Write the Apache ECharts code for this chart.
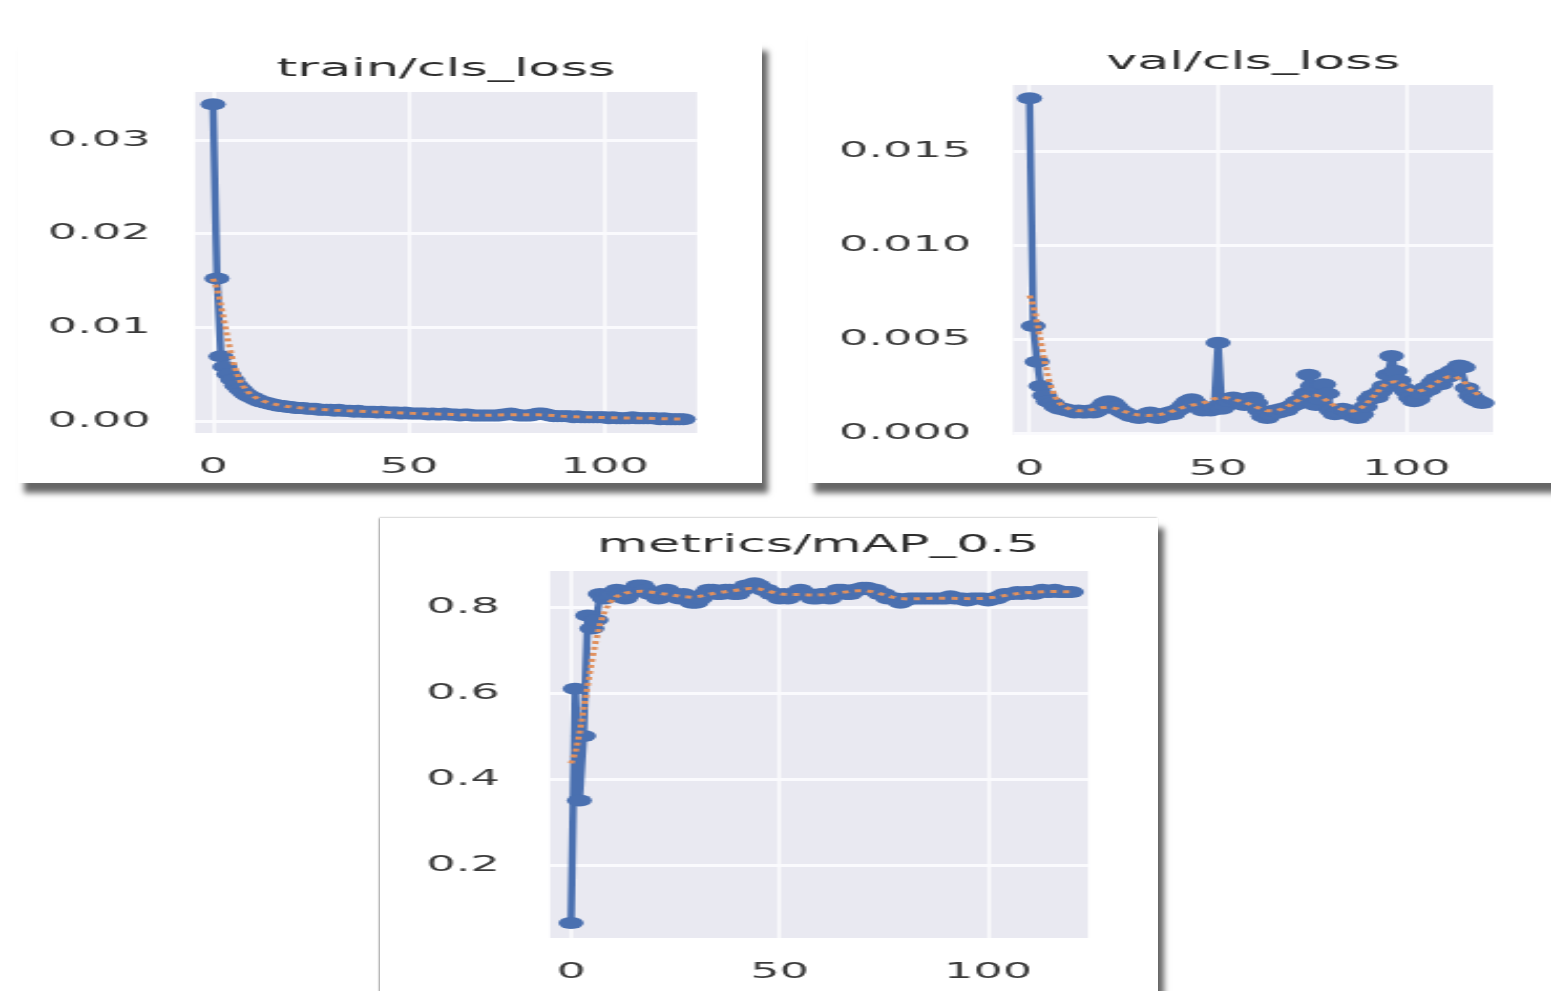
<!DOCTYPE html>
<html>
<head>
<meta charset="utf-8">
<script src="https://cdn.jsdelivr.net/npm/echarts@6/dist/echarts.min.js"></script>
<style>
  html, body { margin: 0; padding: 0; background: #fff; overflow: hidden; }
  body { width: 1551px; height: 991px; position: relative; }
  .card { position: absolute; background: #fff; box-shadow: 6px 10px 6px rgba(0,0,0,0.6); z-index: 1; }
  #chart { position: absolute; left: 0; top: 0; height: 991px; transform-origin: 0 0; z-index: 2; }
</style>
</head>
<body>
<div class="card" style="left:18px;top:41px;width:744px;height:442px;"></div>
<div class="card" style="left:808px;top:30px;width:800px;height:453px;"></div>
<div class="card" style="left:380px;top:518px;width:778px;height:520px;box-shadow:6px 10px 6px rgba(0,0,0,0.6), -1px 0 2px rgba(0,0,0,0.4);"></div>
<div id="chart"></div>
<script>
// the reference was stretched sideways, so draw narrow and scale x
const STRETCH = 2.1;

// ---- data (epochs 0..120) ----
const epochs = Array.from({ length: 121 }, (_, i) => i);

const trainClsLoss = [
  0.0338, 0.0152, 0.0069, 0.0058, 0.0050, 0.0044, 0.0038, 0.0034, 0.0030, 0.0027,
  0.0025, 0.0023, 0.0021, 0.0020, 0.0019, 0.0018, 0.0017, 0.0016, 0.0016, 0.0015,
  0.0015, 0.0014, 0.0014, 0.0014, 0.0013, 0.0013, 0.0013, 0.0012, 0.0012, 0.0012,
  0.0012, 0.0011, 0.0012, 0.0011, 0.0011, 0.0011, 0.0010, 0.0011, 0.0010, 0.0010,
  0.0010, 0.0010, 0.0009, 0.0010, 0.0009, 0.0009, 0.0009, 0.0009, 0.0008, 0.0009,
  0.0008, 0.0008, 0.0008, 0.0008, 0.0008, 0.0007, 0.0008, 0.0007, 0.0007, 0.0008,
  0.0007, 0.0007, 0.0007, 0.0006, 0.0007, 0.0007, 0.0006, 0.0006, 0.0006, 0.0006,
  0.0006, 0.0006, 0.0006, 0.0006, 0.0007, 0.0007, 0.0008, 0.0007, 0.0006, 0.0006,
  0.0006, 0.0006, 0.0007, 0.0008, 0.0008, 0.0007, 0.0006, 0.0005, 0.0005, 0.0005,
  0.0005, 0.0005, 0.0004, 0.0005, 0.0004, 0.0004, 0.0004, 0.0004, 0.0004, 0.0004,
  0.0004, 0.0003, 0.0004, 0.0003, 0.0003, 0.0003, 0.0003, 0.0004, 0.0003, 0.0003,
  0.0003, 0.0003, 0.0003, 0.0003, 0.0002, 0.0003, 0.0002, 0.0002, 0.0002, 0.0002, 0.0002
];

const valClsLoss = [
  0.0178, 0.0057, 0.0038, 0.0025, 0.0020, 0.0017, 0.0016, 0.0014, 0.0013, 0.0013,
  0.0012, 0.0012, 0.0011, 0.0012, 0.0011, 0.0011, 0.0012, 0.0011, 0.0012, 0.0014,
  0.0016, 0.0017, 0.0016, 0.0014, 0.0012, 0.0011, 0.0010, 0.0009, 0.0009, 0.0008,
  0.0009, 0.0010, 0.0011, 0.0009, 0.0008, 0.0009, 0.0010, 0.0011, 0.0010, 0.0012,
  0.0013, 0.0015, 0.0017, 0.0018, 0.0016, 0.0014, 0.0012, 0.0013, 0.0012, 0.0014,
  0.0048, 0.0013, 0.0015, 0.0017, 0.0019, 0.0018, 0.0016, 0.0015, 0.0017, 0.0019,
  0.0016, 0.0012, 0.0009, 0.0008, 0.0010, 0.0012, 0.0011, 0.0013, 0.0012, 0.0014,
  0.0015, 0.0017, 0.0016, 0.0021, 0.0031, 0.0025, 0.0015, 0.0018, 0.0026, 0.0021,
  0.0012, 0.0010, 0.0011, 0.0013, 0.0012, 0.0010, 0.0009, 0.0008, 0.0010, 0.0014,
  0.0018, 0.0020, 0.0019, 0.0022, 0.0025, 0.0031, 0.0041, 0.0033, 0.0028, 0.0024,
  0.0022, 0.0019, 0.0017, 0.0018, 0.0021, 0.0024, 0.0023, 0.0027, 0.0029, 0.0026,
  0.0031, 0.0030, 0.0033, 0.0034, 0.0036, 0.0035, 0.0024, 0.0020, 0.0018, 0.0017, 0.0016
];

const mAP05 = [
  0.065, 0.61, 0.35, 0.50, 0.78, 0.75, 0.77, 0.83, 0.82, 0.83,
  0.83, 0.84, 0.83, 0.82, 0.83, 0.84, 0.85, 0.85, 0.84, 0.83,
  0.83, 0.82, 0.83, 0.84, 0.83, 0.83, 0.82, 0.83, 0.82, 0.81,
  0.81, 0.82, 0.83, 0.84, 0.84, 0.83, 0.83, 0.84, 0.84, 0.83,
  0.83, 0.84, 0.85, 0.85, 0.855, 0.85, 0.84, 0.84, 0.83, 0.83,
  0.82, 0.83, 0.82, 0.83, 0.83, 0.84, 0.83, 0.83, 0.82, 0.82,
  0.83, 0.83, 0.82, 0.83, 0.84, 0.84, 0.83, 0.83, 0.84, 0.84,
  0.845, 0.845, 0.84, 0.84, 0.83, 0.83, 0.82, 0.82, 0.82, 0.81,
  0.815, 0.82, 0.82, 0.82, 0.82, 0.82, 0.82, 0.82, 0.82, 0.82,
  0.82, 0.825, 0.82, 0.82, 0.82, 0.815, 0.82, 0.82, 0.82, 0.82,
  0.815, 0.82, 0.82, 0.825, 0.83, 0.83, 0.83, 0.835, 0.83, 0.835,
  0.835, 0.83, 0.835, 0.84, 0.835, 0.835, 0.84, 0.835, 0.835, 0.835, 0.835
];

const xTicks = [0, 50, 100];
const trainTicks = [0, 0.01, 0.02, 0.03];
const valTicks = [0, 0.005, 0.010, 0.015];
const mapTicks = [0.2, 0.4, 0.6, 0.8];

// smoothed copy, same as the gaussian filter the original plot used
let gaussSmooth = (ys, sigma) => {
  let r = Math.ceil(sigma * 4);
  let w = [];
  for (let k = -r; k <= r; k++) w.push(Math.exp(-(k * k) / (2 * sigma * sigma)));
  let n = ys.length;
  return ys.map((_, i) => {
    let s = 0, ws = 0;
    for (let k = -r; k <= r; k++) {
      let j = i + k;
      if (j < 0) j = -j - 1;          // reflect at the edges
      if (j >= n) j = 2 * n - j - 1;
      s += ys[j] * w[k + r];
      ws += w[k + r];
    }
    return s / ws;
  });
};

let pairs = ys => epochs.map((e, i) => [e, ys[i]]);

// ---- layout (final pixel coords, x divided by the stretch) ----
const panels = [
  { title: "train/cls_loss", tx: 446, ty: 69, left: 195, right: 697, top: 92, bottom: 433,
    xMin: -4.6, xMax: 123.5, yMin: -0.00128, yMax: 0.03512, ticks: trainTicks, dec: 2, ys: trainClsLoss, yMargin: 21 },
  { title: "val/cls_loss", tx: 1253, ty: 62, left: 1013, right: 1493, top: 85, bottom: 435,
    xMin: -4.37, xMax: 122.9, yMin: -0.0001, yMax: 0.01851, ticks: valTicks, dec: 3, ys: valClsLoss, yMargin: 20 },
  { title: "metrics/mAP_0.5", tx: 818, ty: 545, left: 550, right: 1088, top: 571, bottom: 938,
    xMin: -5.04, xMax: 124.0, yMin: 0.0302, yMax: 0.8837, ticks: mapTicks, dec: 1, ys: mAP05, yMargin: 24 }
];

let ix = x => x / STRETCH;

const el = document.getElementById("chart");
el.style.width = ix(1551) + "px";
el.style.transform = "scaleX(" + STRETCH + ")";

const labelStyle = { color: "#3a3a3a", fontFamily: "DejaVu Sans", fontSize: 22 };
const blue = "#4a70b0";
const orange = "#e0905e";

let option = {
  animation: false,
  backgroundColor: "transparent",
  graphic: panels.map(p => ({
    type: "text", x: ix(p.tx), y: p.ty,
    style: { text: p.title, textAlign: "center", textVerticalAlign: "middle",
      fill: "#2e2e2e", font: "25px 'DejaVu Sans'" }
  })),
  grid: panels.map(p => ({
    left: ix(p.left), top: p.top, width: ix(p.right) - ix(p.left), height: p.bottom - p.top,
    show: true, backgroundColor: "#e9e9f1", borderWidth: 0
  })),
  xAxis: panels.map((p, i) => ({
    type: "value", gridIndex: i, min: p.xMin, max: p.xMax,
    axisLine: { show: false },
    axisTick: { show: false, customValues: xTicks },
    axisLabel: { ...labelStyle, margin: 23, customValues: xTicks, formatter: v => String(v) },
    splitLine: { show: true, lineStyle: { color: "#fafafd", width: 1.6 } }
  })),
  yAxis: panels.map((p, i) => ({
    type: "value", gridIndex: i, min: p.yMin, max: p.yMax,
    axisLine: { show: false },
    axisTick: { show: false, customValues: p.ticks },
    axisLabel: { ...labelStyle, margin: p.yMargin, padding: [5, 0, 0, 0],
      customValues: p.ticks, formatter: v => v.toFixed(p.dec) },
    splitLine: { show: true, lineStyle: { color: "#fafafd", width: 3 } }
  })),
  series: []
};

panels.forEach((p, i) => {
  option.series.push({
    type: "line", xAxisIndex: i, yAxisIndex: i, data: pairs(p.ys),
    symbol: "circle", symbolSize: 12, showSymbol: true,
    itemStyle: { color: blue },
    lineStyle: { color: blue, width: 3.5 }, z: 3
  });
  option.series.push({
    type: "line", xAxisIndex: i, yAxisIndex: i, data: pairs(gaussSmooth(p.ys, 3)),
    symbol: "none", lineStyle: { color: orange, width: 3, type: "dotted" }, z: 4
  });
});

const chart = echarts.init(el, null, { renderer: "canvas" });
chart.setOption(option);
</script>
</body>
</html>
